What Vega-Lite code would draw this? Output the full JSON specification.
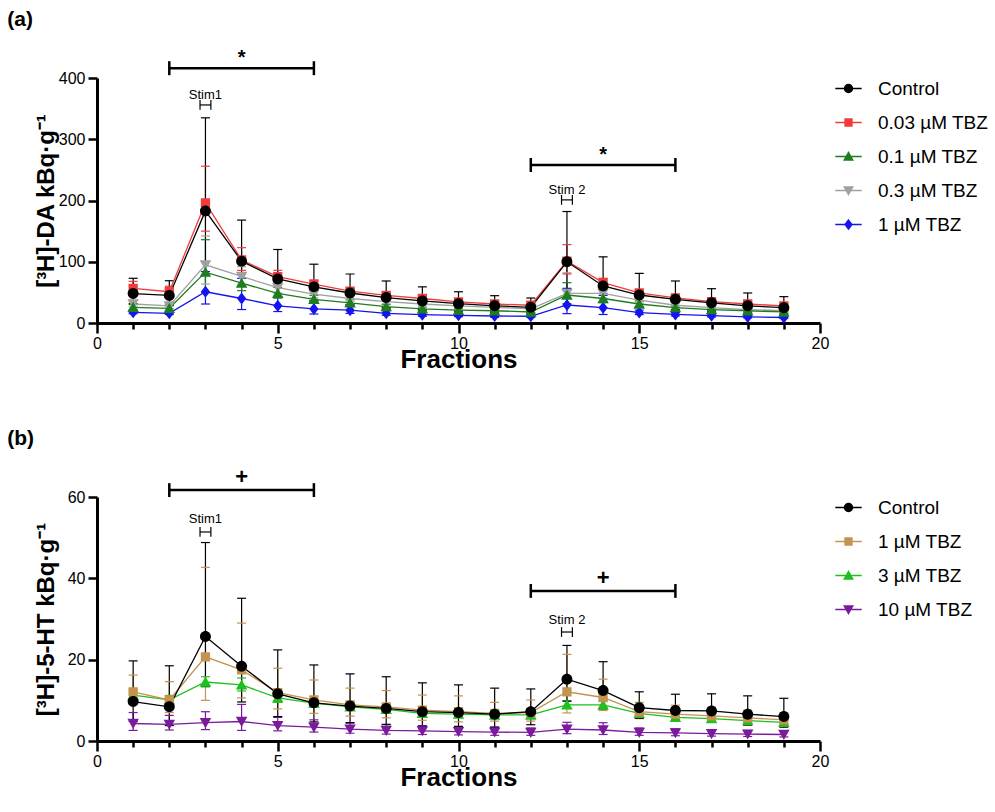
{
  "$schema": "https://vega.github.io/schema/vega-lite/v6.json",
  "padding": {"left": 7, "top": 9, "right": 0, "bottom": 0},
  "spacing": 55,
  "config": {
    "font": "Liberation Sans",
    "view": {"stroke": null},
    "axis": {"domainColor": "black", "domainWidth": 3, "tickColor": "black", "tickWidth": 2.5, "labelColor": "black", "titleColor": "black", "grid": false, "labelFontSize": 16, "labelFont": "Liberation Sans", "titleFont": "Liberation Sans", "titleFontWeight": "bold"},
    "legend": {"labelFont": "Liberation Sans", "labelFontSize": 19, "labelColor": "black"},
    "title": {"font": "Liberation Sans", "fontSize": 21, "fontWeight": "bold", "color": "black"}
  },
  "datasets": {
    "da": [
      {"s":"0.3 µM TBZ","x":1,"m":31,"hi":37,"lo":26},{"s":"0.3 µM TBZ","x":2,"m":28,"hi":33,"lo":23.8},{"s":"0.3 µM TBZ","x":3,"m":95,"hi":142,"lo":63.6},{"s":"0.3 µM TBZ","x":4,"m":76,"hi":92,"lo":62.8},{"s":"0.3 µM TBZ","x":5,"m":57.6,"hi":68,"lo":48.8},{"s":"0.3 µM TBZ","x":6,"m":47,"hi":54,"lo":40.9},{"s":"0.3 µM TBZ","x":7,"m":40,"hi":45,"lo":35.6},{"s":"0.3 µM TBZ","x":8,"m":35,"hi":39,"lo":31.4},{"s":"0.3 µM TBZ","x":9,"m":31,"hi":34,"lo":28.3},{"s":"0.3 µM TBZ","x":10,"m":28,"hi":31,"lo":25.3},{"s":"0.3 µM TBZ","x":11,"m":25.6,"hi":28,"lo":23.4},{"s":"0.3 µM TBZ","x":12,"m":23,"hi":25,"lo":21.2},{"s":"0.3 µM TBZ","x":13,"m":48.5,"hi":82,"lo":28.7},{"s":"0.3 µM TBZ","x":14,"m":48.5,"hi":58,"lo":40.6},{"s":"0.3 µM TBZ","x":15,"m":37.5,"hi":43,"lo":32.7},{"s":"0.3 µM TBZ","x":16,"m":29,"hi":33,"lo":25.5},{"s":"0.3 µM TBZ","x":17,"m":25,"hi":28,"lo":22.3},{"s":"0.3 µM TBZ","x":18,"m":22,"hi":24.5,"lo":19.8},{"s":"0.3 µM TBZ","x":19,"m":20,"hi":22,"lo":18.2},
      {"s":"1 µM TBZ","x":1,"m":17.4,"hi":20,"lo":15.1},{"s":"1 µM TBZ","x":2,"m":15.8,"hi":18,"lo":13.9},{"s":"1 µM TBZ","x":3,"m":51,"hi":84,"lo":31},{"s":"1 µM TBZ","x":4,"m":40,"hi":73,"lo":22},{"s":"1 µM TBZ","x":5,"m":28,"hi":42,"lo":18.7},{"s":"1 µM TBZ","x":6,"m":23,"hi":36,"lo":14.7},{"s":"1 µM TBZ","x":7,"m":21,"hi":28,"lo":15.8},{"s":"1 µM TBZ","x":8,"m":15.8,"hi":20,"lo":12.5},{"s":"1 µM TBZ","x":9,"m":13.6,"hi":17,"lo":10.9},{"s":"1 µM TBZ","x":10,"m":12.5,"hi":15,"lo":10.4},{"s":"1 µM TBZ","x":11,"m":11.4,"hi":14,"lo":9.3},{"s":"1 µM TBZ","x":12,"m":11,"hi":13.5,"lo":9},{"s":"1 µM TBZ","x":13,"m":29.4,"hi":56.6,"lo":15.3},{"s":"1 µM TBZ","x":14,"m":25,"hi":45,"lo":13.9},{"s":"1 µM TBZ","x":15,"m":17,"hi":21,"lo":13.8},{"s":"1 µM TBZ","x":16,"m":14,"hi":17,"lo":11.5},{"s":"1 µM TBZ","x":17,"m":12,"hi":14.5,"lo":9.9},{"s":"1 µM TBZ","x":18,"m":10,"hi":12,"lo":8.3},{"s":"1 µM TBZ","x":19,"m":9,"hi":11,"lo":7.4},
      {"s":"0.1 µM TBZ","x":1,"m":25.6,"hi":30,"lo":21.8},{"s":"0.1 µM TBZ","x":2,"m":24,"hi":28,"lo":20.6},{"s":"0.1 µM TBZ","x":3,"m":83,"hi":136,"lo":50.6},{"s":"0.1 µM TBZ","x":4,"m":65,"hi":80,"lo":52.8},{"s":"0.1 µM TBZ","x":5,"m":48.5,"hi":58,"lo":40.6},{"s":"0.1 µM TBZ","x":6,"m":38.7,"hi":45,"lo":33.3},{"s":"0.1 µM TBZ","x":7,"m":33,"hi":38,"lo":28.7},{"s":"0.1 µM TBZ","x":8,"m":26.6,"hi":30,"lo":23.6},{"s":"0.1 µM TBZ","x":9,"m":23,"hi":26,"lo":20.3},{"s":"0.1 µM TBZ","x":10,"m":21,"hi":23.5,"lo":18.8},{"s":"0.1 µM TBZ","x":11,"m":20,"hi":22,"lo":18.2},{"s":"0.1 µM TBZ","x":12,"m":18,"hi":20,"lo":16.2},{"s":"0.1 µM TBZ","x":13,"m":45.7,"hi":65.8,"lo":31.7},{"s":"0.1 µM TBZ","x":14,"m":40,"hi":48,"lo":33.3},{"s":"0.1 µM TBZ","x":15,"m":31,"hi":36,"lo":26.7},{"s":"0.1 µM TBZ","x":16,"m":25,"hi":28,"lo":22.3},{"s":"0.1 µM TBZ","x":17,"m":22,"hi":24.5,"lo":19.8},{"s":"0.1 µM TBZ","x":18,"m":20,"hi":22,"lo":18.2},{"s":"0.1 µM TBZ","x":19,"m":18,"hi":20,"lo":16.2},
      {"s":"0.03 µM TBZ","x":1,"m":56.6,"hi":68,"lo":47.1},{"s":"0.03 µM TBZ","x":2,"m":51,"hi":60,"lo":43.4},{"s":"0.03 µM TBZ","x":3,"m":196,"hi":256,"lo":150},{"s":"0.03 µM TBZ","x":4,"m":103,"hi":123,"lo":86},{"s":"0.03 µM TBZ","x":5,"m":75.6,"hi":86,"lo":66.5},{"s":"0.03 µM TBZ","x":6,"m":63.5,"hi":70,"lo":57.6},{"s":"0.03 µM TBZ","x":7,"m":52,"hi":57,"lo":47.4},{"s":"0.03 µM TBZ","x":8,"m":45,"hi":50,"lo":40.5},{"s":"0.03 µM TBZ","x":9,"m":40,"hi":44,"lo":36.4},{"s":"0.03 µM TBZ","x":10,"m":34.5,"hi":38,"lo":31.3},{"s":"0.03 µM TBZ","x":11,"m":31,"hi":34,"lo":28.3},{"s":"0.03 µM TBZ","x":12,"m":29,"hi":32,"lo":26.3},{"s":"0.03 µM TBZ","x":13,"m":101,"hi":128,"lo":80},{"s":"0.03 µM TBZ","x":14,"m":66,"hi":73,"lo":59.7},{"s":"0.03 µM TBZ","x":15,"m":49,"hi":54,"lo":44.5},{"s":"0.03 µM TBZ","x":16,"m":41,"hi":45,"lo":37.4},{"s":"0.03 µM TBZ","x":17,"m":35,"hi":38,"lo":32.2},{"s":"0.03 µM TBZ","x":18,"m":31,"hi":34,"lo":28.3},{"s":"0.03 µM TBZ","x":19,"m":28,"hi":31,"lo":25.3},
      {"s":"Control","x":1,"m":48,"hi":73,"lo":31.6},{"s":"Control","x":2,"m":45,"hi":69,"lo":29.3},{"s":"Control","x":3,"m":183,"hi":335,"lo":100},{"s":"Control","x":4,"m":101,"hi":168,"lo":60.7},{"s":"Control","x":5,"m":72,"hi":120,"lo":43.2},{"s":"Control","x":6,"m":59,"hi":96,"lo":36.3},{"s":"Control","x":7,"m":49,"hi":80,"lo":30},{"s":"Control","x":8,"m":41.5,"hi":68.6,"lo":25.1},{"s":"Control","x":9,"m":36,"hi":59,"lo":22},{"s":"Control","x":10,"m":31.5,"hi":51,"lo":19.5},{"s":"Control","x":11,"m":28,"hi":44.6,"lo":17.6},{"s":"Control","x":12,"m":25.6,"hi":40.8,"lo":16.1},{"s":"Control","x":13,"m":100,"hi":182,"lo":54.9},{"s":"Control","x":14,"m":60.4,"hi":108,"lo":33.8},{"s":"Control","x":15,"m":45.7,"hi":81,"lo":25.8},{"s":"Control","x":16,"m":38.7,"hi":68.6,"lo":21.8},{"s":"Control","x":17,"m":33,"hi":56,"lo":19.4},{"s":"Control","x":18,"m":28,"hi":49,"lo":16},{"s":"Control","x":19,"m":25,"hi":43,"lo":14.5}
    ],
    "ht": [
      {"s":"10 µM TBZ","x":1,"m":4.3,"hi":7.0,"lo":2.6},{"s":"10 µM TBZ","x":2,"m":4.1,"hi":6.3,"lo":2.7},{"s":"10 µM TBZ","x":3,"m":4.5,"hi":7.2,"lo":2.8},{"s":"10 µM TBZ","x":4,"m":4.8,"hi":9.0,"lo":2.6},{"s":"10 µM TBZ","x":5,"m":3.8,"hi":5.8,"lo":2.5},{"s":"10 µM TBZ","x":6,"m":3.4,"hi":5.2,"lo":2.2},{"s":"10 µM TBZ","x":7,"m":2.9,"hi":4.4,"lo":1.9},{"s":"10 µM TBZ","x":8,"m":2.6,"hi":4.0,"lo":1.7},{"s":"10 µM TBZ","x":9,"m":2.5,"hi":3.8,"lo":1.6},{"s":"10 µM TBZ","x":10,"m":2.3,"hi":3.5,"lo":1.5},{"s":"10 µM TBZ","x":11,"m":2.2,"hi":3.4,"lo":1.4},{"s":"10 µM TBZ","x":12,"m":2.1,"hi":3.2,"lo":1.4},{"s":"10 µM TBZ","x":13,"m":2.9,"hi":4.6,"lo":1.8},{"s":"10 µM TBZ","x":14,"m":2.7,"hi":4.5,"lo":1.6},{"s":"10 µM TBZ","x":15,"m":2.1,"hi":3.2,"lo":1.4},{"s":"10 µM TBZ","x":16,"m":2.0,"hi":3.0,"lo":1.3},{"s":"10 µM TBZ","x":17,"m":1.8,"hi":2.8,"lo":1.2},{"s":"10 µM TBZ","x":18,"m":1.7,"hi":2.6,"lo":1.1},{"s":"10 µM TBZ","x":19,"m":1.6,"hi":2.5,"lo":1.0},
      {"s":"3 µM TBZ","x":1,"m":11.3,"hi":12.5,"lo":10.2},{"s":"3 µM TBZ","x":2,"m":10.1,"hi":11.2,"lo":9.1},{"s":"3 µM TBZ","x":3,"m":14.5,"hi":15.8,"lo":13.3},{"s":"3 µM TBZ","x":4,"m":13.8,"hi":15.5,"lo":12.3},{"s":"3 µM TBZ","x":5,"m":10.6,"hi":11.8,"lo":9.5},{"s":"3 µM TBZ","x":6,"m":9.3,"hi":10.3,"lo":8.4},{"s":"3 µM TBZ","x":7,"m":8.4,"hi":9.3,"lo":7.6},{"s":"3 µM TBZ","x":8,"m":7.8,"hi":8.6,"lo":7.1},{"s":"3 µM TBZ","x":9,"m":6.8,"hi":7.5,"lo":6.2},{"s":"3 µM TBZ","x":10,"m":6.6,"hi":7.3,"lo":6.0},{"s":"3 µM TBZ","x":11,"m":6.4,"hi":7.1,"lo":5.8},{"s":"3 µM TBZ","x":12,"m":6.4,"hi":7.1,"lo":5.8},{"s":"3 µM TBZ","x":13,"m":8.9,"hi":9.9,"lo":8.0},{"s":"3 µM TBZ","x":14,"m":8.9,"hi":9.9,"lo":8.0},{"s":"3 µM TBZ","x":15,"m":6.8,"hi":7.5,"lo":6.2},{"s":"3 µM TBZ","x":16,"m":5.8,"hi":6.4,"lo":5.3},{"s":"3 µM TBZ","x":17,"m":5.5,"hi":6.1,"lo":5.0},{"s":"3 µM TBZ","x":18,"m":5.0,"hi":5.5,"lo":4.5},{"s":"3 µM TBZ","x":19,"m":4.6,"hi":5.1,"lo":4.1},
      {"s":"1 µM TBZ","x":1,"m":12.1,"hi":16.2,"lo":9.0},{"s":"1 µM TBZ","x":2,"m":10.1,"hi":14.6,"lo":7.0},{"s":"1 µM TBZ","x":3,"m":20.7,"hi":42.7,"lo":10.0},{"s":"1 µM TBZ","x":4,"m":17.5,"hi":29,"lo":10.6},{"s":"1 µM TBZ","x":5,"m":11.9,"hi":17.9,"lo":7.9},{"s":"1 µM TBZ","x":6,"m":10.1,"hi":15,"lo":6.8},{"s":"1 µM TBZ","x":7,"m":8.9,"hi":13,"lo":6.1},{"s":"1 µM TBZ","x":8,"m":8.4,"hi":12.4,"lo":5.7},{"s":"1 µM TBZ","x":9,"m":7.6,"hi":11.3,"lo":5.1},{"s":"1 µM TBZ","x":10,"m":7.2,"hi":11.1,"lo":4.7},{"s":"1 µM TBZ","x":11,"m":6.8,"hi":9.5,"lo":4.9},{"s":"1 µM TBZ","x":12,"m":7.0,"hi":10.1,"lo":4.9},{"s":"1 µM TBZ","x":13,"m":12.1,"hi":21.3,"lo":6.9},{"s":"1 µM TBZ","x":14,"m":10.7,"hi":15.2,"lo":7.5},{"s":"1 µM TBZ","x":15,"m":7.2,"hi":9.5,"lo":5.5},{"s":"1 µM TBZ","x":16,"m":6.6,"hi":8.8,"lo":5.0},{"s":"1 µM TBZ","x":17,"m":6.2,"hi":8.3,"lo":4.6},{"s":"1 µM TBZ","x":18,"m":5.7,"hi":7.6,"lo":4.3},{"s":"1 µM TBZ","x":19,"m":5.2,"hi":7.0,"lo":3.9},
      {"s":"Control","x":1,"m":9.7,"hi":19.7,"lo":4.8},{"s":"Control","x":2,"m":8.4,"hi":18.5,"lo":3.8},{"s":"Control","x":3,"m":25.7,"hi":48.8,"lo":13.5},{"s":"Control","x":4,"m":18.4,"hi":35.1,"lo":9.6},{"s":"Control","x":5,"m":11.6,"hi":22.4,"lo":6.0},{"s":"Control","x":6,"m":9.4,"hi":18.7,"lo":4.7},{"s":"Control","x":7,"m":8.6,"hi":16.5,"lo":4.5},{"s":"Control","x":8,"m":8.0,"hi":15.8,"lo":4.1},{"s":"Control","x":9,"m":7.2,"hi":14.3,"lo":3.6},{"s":"Control","x":10,"m":7.0,"hi":13.8,"lo":3.6},{"s":"Control","x":11,"m":6.6,"hi":13.0,"lo":3.4},{"s":"Control","x":12,"m":7.2,"hi":12.8,"lo":4.0},{"s":"Control","x":13,"m":15.2,"hi":23.5,"lo":9.8},{"s":"Control","x":14,"m":12.4,"hi":19.5,"lo":7.9},{"s":"Control","x":15,"m":8.2,"hi":12.1,"lo":5.6},{"s":"Control","x":16,"m":7.5,"hi":11.5,"lo":4.9},{"s":"Control","x":17,"m":7.4,"hi":11.6,"lo":4.7},{"s":"Control","x":18,"m":6.6,"hi":11.1,"lo":3.9},{"s":"Control","x":19,"m":6.0,"hi":10.5,"lo":3.4}
    ],
    "aBig": [{"x":2,"x2":6,"y":416},{"x":12,"x2":16,"y":258}],
    "aBigEnds": [{"x":2,"y":404.6,"y2":427.4},{"x":6,"y":404.6,"y2":427.4},{"x":12,"y":246.6,"y2":269.4},{"x":16,"y":246.6,"y2":269.4}],
    "aSmall": [{"x":2.85,"x2":3.15,"y":356},{"x":12.85,"x2":13.15,"y":201}],
    "aSmallEnds": [{"x":2.85,"y":348,"y2":364},{"x":3.15,"y":348,"y2":364},{"x":12.85,"y":193,"y2":209},{"x":13.15,"y":193,"y2":209}],
    "aStars": [{"x":4,"y":432,"t":"*"},{"x":14,"y":274,"t":"*"}],
    "aStim": [{"x":3,"y":373,"t":"Stim1"},{"x":13,"y":217,"t":"Stim 2"}],
    "bBig": [{"x":2,"x2":6,"y":61.7},{"x":12,"x2":16,"y":36.9}],
    "bBigEnds": [{"x":2,"y":60,"y2":63.4},{"x":6,"y":60,"y2":63.4},{"x":12,"y":35.2,"y2":38.6},{"x":16,"y":35.2,"y2":38.6}],
    "bSmall": [{"x":2.85,"x2":3.15,"y":51.4},{"x":12.85,"x2":13.15,"y":26.8}],
    "bSmallEnds": [{"x":2.85,"y":50.2,"y2":52.6},{"x":3.15,"y":50.2,"y2":52.6},{"x":12.85,"y":25.6,"y2":28},{"x":13.15,"y":25.6,"y2":28}],
    "bPlus": [{"x":4,"y":65.0,"t":"+"},{"x":14,"y":40.2,"t":"+"}],
    "bStim": [{"x":3,"y":54.6,"t":"Stim1"},{"x":13,"y":29.8,"t":"Stim 2"}]
  },
  "vconcat": [
    {
      "title": {"text": "(a)", "anchor": "start", "frame": "bounds", "offset": 18, "dx": -27},
      "width": 723,
      "height": 245,
      "encoding": {
        "x": {"field": "x", "type": "quantitative", "scale": {"domain": [0, 20], "nice": false},
          "axis": {"title": "Fractions", "titleFontSize": 26, "titlePadding": -5, "values": [0,1,2,3,4,5,6,7,8,9,10,11,12,13,14,15,16,17,18,19,20], "labelExpr": "datum.value % 5 === 0 ? datum.label : ''", "tickSize": {"condition": {"test": "datum.value % 5 === 0", "value": 10}, "value": 6}, "labelPadding": 2, "labelFlush": false}}
      },
      "layer": [
        {"data": {"name": "da"}, "mark": {"type": "rule", "strokeWidth": 1.2},
          "encoding": {
            "y": {"field": "lo", "type": "quantitative", "scale": {"domain": [0, 400], "nice": false}, "axis": {"title": "[³H]-DA kBq·g⁻¹", "titleFontSize": 24, "values": [0,100,200,300,400], "tickSize": 9, "labelPadding": 3, "titlePadding": 0}},
            "y2": {"field": "hi"},
            "color": {"field": "s", "type": "nominal", "scale": {"domain": ["0.3 µM TBZ","1 µM TBZ","0.1 µM TBZ","0.03 µM TBZ","Control"], "range": ["#a0a0a0","#1414f0","#1e7d1e","#f03c3c","#000000"]}, "legend": null}
          }},
        {"data": {"name": "da"}, "mark": {"type": "tick", "orient": "horizontal", "size": 9, "thickness": 1.2, "opacity": 1},
          "encoding": {"y": {"field": "hi", "type": "quantitative"}, "color": {"field": "s", "type": "nominal", "legend": null}}},
        {"data": {"name": "da"}, "mark": {"type": "tick", "orient": "horizontal", "size": 9, "thickness": 1.2, "opacity": 1},
          "encoding": {"y": {"field": "lo", "type": "quantitative"}, "color": {"field": "s", "type": "nominal", "legend": null}}},
        {"data": {"name": "da"}, "mark": {"type": "line", "strokeWidth": 1.3},
          "encoding": {"y": {"field": "m", "type": "quantitative"}, "color": {"field": "s", "type": "nominal", "legend": null}, "order": {"field": "x"}}},
        {"data": {"name": "da"}, "mark": {"type": "point", "filled": true, "opacity": 1, "strokeWidth": 0, "size": 120},
          "encoding": {
            "y": {"field": "m", "type": "quantitative"},
            "fill": {"field": "s", "type": "nominal", "scale": {"domain": ["Control","0.03 µM TBZ","0.1 µM TBZ","0.3 µM TBZ","1 µM TBZ"], "range": ["#000000","#f03c3c","#1e7d1e","#a0a0a0","#1414f0"]},
              "legend": {"title": null, "symbolSize": 64, "labelOffset": 20, "rowPadding": 14, "offset": 18, "padding": 1, "encode": {"symbols": {"update": {"strokeWidth": {"value": 1.5}}}}}},
            "stroke": {"field": "s", "type": "nominal", "scale": {"domain": ["Control","0.03 µM TBZ","0.1 µM TBZ","0.3 µM TBZ","1 µM TBZ"], "range": ["#000000","#f03c3c","#1e7d1e","#a0a0a0","#1414f0"]}, "legend": {"title": null}},
            "shape": {"field": "s", "type": "nominal", "scale": {"domain": ["Control","0.03 µM TBZ","0.1 µM TBZ","0.3 µM TBZ","1 µM TBZ"], "range": ["M-3.3,0H3.3M1,0A1,1,0,1,1,-1,0A1,1,0,1,1,1,0Z","M-3.3,0H3.3M-0.85,-0.85H0.85V0.85H-0.85Z","M-3.3,0H3.3M0,-1L1.05,0.85H-1.05Z","M-3.3,0H3.3M0,1L1.05,-0.85H-1.05Z","M-3.3,0H3.3M0,-1.1L0.85,0L0,1.1L-0.85,0Z"]}, "legend": {"title": null}}
          }},
        {"data": {"name": "aBig"}, "mark": {"type": "rule", "strokeWidth": 2.5, "color": "black"},
          "encoding": {"x2": {"field": "x2"}, "y": {"field": "y", "type": "quantitative"}}},
        {"data": {"name": "aBigEnds"}, "mark": {"type": "rule", "strokeWidth": 2.5, "color": "black"},
          "encoding": {"y": {"field": "y", "type": "quantitative"}, "y2": {"field": "y2"}}},
        {"data": {"name": "aSmall"}, "mark": {"type": "rule", "strokeWidth": 1.2, "color": "black"},
          "encoding": {"x2": {"field": "x2"}, "y": {"field": "y", "type": "quantitative"}}},
        {"data": {"name": "aSmallEnds"}, "mark": {"type": "rule", "strokeWidth": 1.2, "color": "black"},
          "encoding": {"y": {"field": "y", "type": "quantitative"}, "y2": {"field": "y2"}}},
        {"data": {"name": "aStars"}, "mark": {"type": "text", "fontSize": 20, "fontWeight": "bold", "baseline": "middle", "color": "black"},
          "encoding": {"y": {"field": "y", "type": "quantitative"}, "text": {"field": "t"}}},
        {"data": {"name": "aStim"}, "mark": {"type": "text", "fontSize": 13, "baseline": "middle", "color": "black"},
          "encoding": {"y": {"field": "y", "type": "quantitative"}, "text": {"field": "t"}}}
      ]
    },
    {
      "title": {"text": "(b)", "anchor": "start", "frame": "bounds", "offset": 17, "dx": -27},
      "width": 723,
      "height": 244,
      "encoding": {
        "x": {"field": "x", "type": "quantitative", "scale": {"domain": [0, 20], "nice": false},
          "axis": {"title": "Fractions", "titleFontSize": 26, "titlePadding": -5, "values": [0,1,2,3,4,5,6,7,8,9,10,11,12,13,14,15,16,17,18,19,20], "labelExpr": "datum.value % 5 === 0 ? datum.label : ''", "tickSize": {"condition": {"test": "datum.value % 5 === 0", "value": 10}, "value": 6}, "labelPadding": 2, "labelFlush": false}}
      },
      "layer": [
        {"data": {"name": "ht"}, "mark": {"type": "rule", "strokeWidth": 1.2},
          "encoding": {
            "y": {"field": "lo", "type": "quantitative", "scale": {"domain": [0, 60], "nice": false}, "axis": {"title": "[³H]-5-HT kBq·g⁻¹", "titleFontSize": 24, "values": [0,20,40,60], "tickSize": 9, "labelPadding": 3, "titlePadding": 9}},
            "y2": {"field": "hi"},
            "color": {"field": "s", "type": "nominal", "scale": {"domain": ["10 µM TBZ","3 µM TBZ","1 µM TBZ","Control"], "range": ["#7b1a9c","#1fbf1f","#c4934f","#000000"]}, "legend": null}
          }},
        {"data": {"name": "ht"}, "mark": {"type": "tick", "orient": "horizontal", "size": 9, "thickness": 1.2, "opacity": 1},
          "encoding": {"y": {"field": "hi", "type": "quantitative"}, "color": {"field": "s", "type": "nominal", "legend": null}}},
        {"data": {"name": "ht"}, "mark": {"type": "tick", "orient": "horizontal", "size": 9, "thickness": 1.2, "opacity": 1},
          "encoding": {"y": {"field": "lo", "type": "quantitative"}, "color": {"field": "s", "type": "nominal", "legend": null}}},
        {"data": {"name": "ht"}, "mark": {"type": "line", "strokeWidth": 1.3},
          "encoding": {"y": {"field": "m", "type": "quantitative"}, "color": {"field": "s", "type": "nominal", "legend": null}, "order": {"field": "x"}}},
        {"data": {"name": "ht"}, "mark": {"type": "point", "filled": true, "opacity": 1, "strokeWidth": 0, "size": 120},
          "encoding": {
            "y": {"field": "m", "type": "quantitative"},
            "fill": {"field": "s", "type": "nominal", "scale": {"domain": ["Control","1 µM TBZ","3 µM TBZ","10 µM TBZ"], "range": ["#000000","#c4934f","#1fbf1f","#7b1a9c"]},
              "legend": {"title": null, "symbolSize": 64, "labelOffset": 20, "rowPadding": 14, "offset": 18, "padding": 1, "encode": {"symbols": {"update": {"strokeWidth": {"value": 1.5}}}}}},
            "stroke": {"field": "s", "type": "nominal", "scale": {"domain": ["Control","1 µM TBZ","3 µM TBZ","10 µM TBZ"], "range": ["#000000","#c4934f","#1fbf1f","#7b1a9c"]}, "legend": {"title": null}},
            "shape": {"field": "s", "type": "nominal", "scale": {"domain": ["Control","1 µM TBZ","3 µM TBZ","10 µM TBZ"], "range": ["M-3.3,0H3.3M1,0A1,1,0,1,1,-1,0A1,1,0,1,1,1,0Z","M-3.3,0H3.3M-0.85,-0.85H0.85V0.85H-0.85Z","M-3.3,0H3.3M0,-1L1.05,0.85H-1.05Z","M-3.3,0H3.3M0,1L1.05,-0.85H-1.05Z"]}, "legend": {"title": null}}
          }},
        {"data": {"name": "bBig"}, "mark": {"type": "rule", "strokeWidth": 2.5, "color": "black"},
          "encoding": {"x2": {"field": "x2"}, "y": {"field": "y", "type": "quantitative"}}},
        {"data": {"name": "bBigEnds"}, "mark": {"type": "rule", "strokeWidth": 2.5, "color": "black"},
          "encoding": {"y": {"field": "y", "type": "quantitative"}, "y2": {"field": "y2"}}},
        {"data": {"name": "bSmall"}, "mark": {"type": "rule", "strokeWidth": 1.2, "color": "black"},
          "encoding": {"x2": {"field": "x2"}, "y": {"field": "y", "type": "quantitative"}}},
        {"data": {"name": "bSmallEnds"}, "mark": {"type": "rule", "strokeWidth": 1.2, "color": "black"},
          "encoding": {"y": {"field": "y", "type": "quantitative"}, "y2": {"field": "y2"}}},
        {"data": {"name": "bPlus"}, "mark": {"type": "text", "fontSize": 22, "fontWeight": "bold", "baseline": "middle", "color": "black"},
          "encoding": {"y": {"field": "y", "type": "quantitative"}, "text": {"field": "t"}}},
        {"data": {"name": "bStim"}, "mark": {"type": "text", "fontSize": 13, "baseline": "middle", "color": "black"},
          "encoding": {"y": {"field": "y", "type": "quantitative"}, "text": {"field": "t"}}}
      ]
    }
  ],
  "resolve": {"scale": {"color": "independent", "fill": "independent", "stroke": "independent", "shape": "independent", "y": "independent", "x": "independent"}, "legend": {"fill": "independent", "stroke": "independent", "shape": "independent"}}
}
